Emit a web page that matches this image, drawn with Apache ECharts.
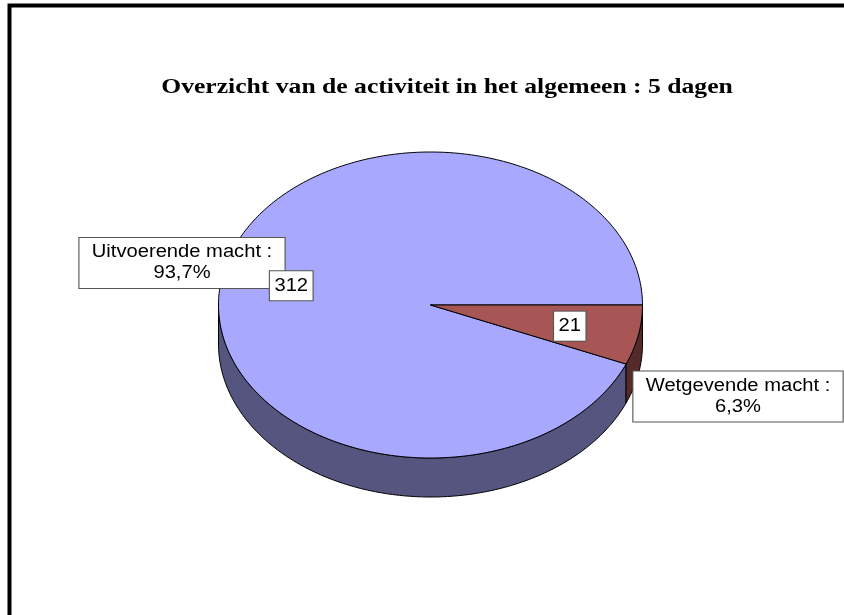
<!DOCTYPE html>
<html>
<head>
<meta charset="utf-8">
<title>Overzicht van de activiteit</title>
<script src="https://cdn.jsdelivr.net/npm/echarts@6/dist/echarts.min.js"></script>
<style>
  html, body { margin: 0; padding: 0; background: #fff; }
  #chart { width: 844px; height: 615px; }
</style>
</head>
<body>
<div id="chart"></div>
<script>
// gegevens
const categories = ['Uitvoerende macht', 'Wetgevende macht'];
const values = [312, 21];

// kleuren (bovenkant / zijkant)
const topColors = ['#A8A8FF', '#A85555'];
const sideColors = ['#555580', '#552A2A'];

// geometrie van de 3D-taart
const CX = 430.5, CY = 305, RX = 212, RY = 153, DEPTH = 39;
const START_DEG = 22.7;        // hoek van het eerste segment
const VALUE_R = 0.67;          // positie van de waardelabels
const NAME_BOXES = [[182, 263], [738, 396.5]]; // middelpunten van de naamlabels
const TEXT_SX = 1.12;

const total = values.reduce((a, b) => a + b, 0);

function pt(deg, dy) {
  const r = deg * Math.PI / 180;
  return [CX + RX * Math.cos(r), CY + RY * Math.sin(r) + (dy || 0)];
}

function arc(a0, a1, dy) {
  const pts = [];
  const n = Math.max(2, Math.ceil(Math.abs(a1 - a0)));
  for (let k = 0; k <= n; k++) pts.push(pt(a0 + (a1 - a0) * k / n, dy));
  return pts;
}

function pct(v) {
  return (v / total * 100).toFixed(1).replace('.', ',') + '%';
}

function renderItem(params, api) {
  const i = params.dataIndex;
  const v = api.value(0);
  let before = 0;
  for (let k = 0; k < i; k++) before += values[k];
  const a0 = START_DEG + before / total * 360;
  const a1 = a0 + v / total * 360;
  const children = [];

  // zichtbare zijkant (voorste helft)
  [0, 360].forEach(function (base) {
    const s = Math.max(a0, base), e = Math.min(a1, base + 180);
    if (e > s) {
      children.push({
        type: 'polygon',
        z2: 1,
        shape: { points: arc(s, e, 0).concat(arc(e, s, DEPTH)) },
        style: { fill: sideColors[i], stroke: '#000', lineWidth: 1 }
      });
    }
  });

  // bovenkant
  children.push({
    type: 'polygon',
    z2: 5,
    shape: { points: [[CX, CY]].concat(arc(a0, a1, 0)) },
    style: { fill: topColors[i], stroke: '#000', lineWidth: 1, lineJoin: 'round' }
  });

  // naamlabel buiten de taart
  children.push({
    type: 'text',
    z2: 20,
    x: NAME_BOXES[i][0],
    y: NAME_BOXES[i][1],
    scaleX: TEXT_SX,
    style: {
      text: categories[i] + ' :\n' + pct(v),
      x: 0, y: 0,
      align: 'center', verticalAlign: 'middle',
      font: '18px "Liberation Sans", Arial, sans-serif',
      lineHeight: 21,
      fill: '#000',
      backgroundColor: '#fff',
      borderColor: '#555', borderWidth: 1,
      padding: [4, 11, 4, 11]
    }
  });

  // waardelabel in het segment
  const mid = (a0 + a1) / 2 * Math.PI / 180;
  children.push({
    type: 'text',
    z2: 30,
    x: CX + RX * VALUE_R * Math.cos(mid),
    y: CY + RY * VALUE_R * Math.sin(mid) + 1,
    scaleX: TEXT_SX,
    style: {
      text: String(v),
      x: 0, y: 0,
      align: 'center', verticalAlign: 'middle',
      font: '18px "Liberation Sans", Arial, sans-serif',
      fill: '#000',
      backgroundColor: '#fff',
      borderColor: '#555', borderWidth: 1,
      padding: [6, 4, 5, 4]
    }
  });

  return { type: 'group', children: children };
}

const chart = echarts.init(document.getElementById('chart'));
chart.setOption({
  animation: false,
  backgroundColor: '#fff',
  graphic: [
    {
      type: 'polyline',
      shape: { points: [[9.5, 615], [9.5, 5.5], [844, 5.5]] },
      style: { stroke: '#000', lineWidth: 4, fill: null }
    },
    {
      type: 'text',
      x: 447, y: 87,
      scaleX: 1.165,
      style: {
        text: 'Overzicht van de activiteit in het algemeen : 5 dagen',
        x: 0, y: 0,
        textAlign: 'center', textVerticalAlign: 'middle',
        font: 'bold 22px "Liberation Serif", "Times New Roman", serif',
        fill: '#000'
      }
    }
  ],
  series: [{
    type: 'custom',
    coordinateSystem: 'none',
    renderItem: renderItem,
    data: values.map(function (v, i) { return { name: categories[i], value: v }; })
  }]
});

window.addEventListener('resize', function () { chart.resize(); });
</script>
</body>
</html>
